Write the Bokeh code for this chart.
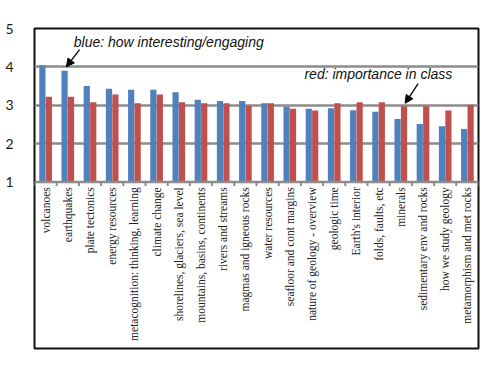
import numpy as np
from bokeh.plotting import figure
from bokeh.models import Range1d, FixedTicker, ColumnDataSource, Label, Arrow, NormalHead, Span
from bokeh.core.properties import value
from bokeh.embed import file_html
from bokeh.resources import INLINE

# Survey topics, mean ratings on a 1-5 scale
topics = [
    "volcanoes", "earthquakes", "plate tectonics", "energy resources",
    "metacognition: thinking, learning", "climate change",
    "shorelines, glaciers, sea level", "mountains, basins, continents",
    "rivers and streams", "magmas and igneous rocks", "water resources",
    "seafloor and cont margins", "nature of geology - overview",
    "geologic time", "Earth's interior", "folds, faults, etc", "minerals",
    "sedimentary env and rocks", "how we study geology",
    "metamorphism and met rocks",
]
interest = [4.04, 3.90, 3.50, 3.43, 3.40, 3.40, 3.34, 3.14, 3.11, 3.11,
            3.05, 2.96, 2.91, 2.92, 2.87, 2.83, 2.64, 2.51, 2.45, 2.38]
importance = [3.22, 3.22, 3.08, 3.28, 3.05, 3.28, 3.08, 3.05, 3.05, 2.98,
              3.05, 2.91, 2.86, 3.05, 3.08, 3.08, 2.97, 2.97, 2.86, 3.01]
y_ticks = [1, 2, 3, 4, 5]

BLUE = "#4F81BD"
RED = "#C0504D"
GRID = "#8c8c8c"

n = len(topics)
xc = np.arange(n) + 0.5
off = 0.145
src = ColumnDataSource(dict(
    xb=xc - off, xr=xc + off, interest=interest, importance=importance,
    xl=xc, topic=topics,
))

# y range continues below 1 so the framed box also holds the topic labels
p = figure(width=500, height=371, output_backend="svg", toolbar_location=None,
           x_range=Range1d(0, n), y_range=Range1d(-3.344, 5),
           x_axis_location=None,
           min_border_left=34, min_border_right=22,
           min_border_top=28, min_border_bottom=23)
p.background_fill_color = "white"
p.border_fill_color = "white"
p.outline_line_color = "#111111"
p.outline_line_width = 2

p.xgrid.visible = False
p.ygrid.ticker = FixedTicker(ticks=y_ticks[1:-1])
p.ygrid.grid_line_color = GRID
p.ygrid.grid_line_width = 2.5

yax = p.yaxis[0]
yax.ticker = FixedTicker(ticks=y_ticks)
yax.axis_line_color = None
yax.major_tick_line_color = None
yax.minor_tick_line_color = None
yax.major_label_standoff = 15
yax.major_label_text_font = "Lato"
yax.major_label_text_font_size = "14px"
yax.major_label_text_color = "#1a1a1a"

p.vbar(x="xb", width=0.28, bottom=1, top="interest", source=src,
       fill_color=BLUE, line_color=None)
p.vbar(x="xr", width=0.28, bottom=1, top="importance", source=src,
       fill_color=RED, line_color=None)

# category axis at y = 1 with tick marks between categories
p.add_layout(Span(location=1, dimension="width", line_color=GRID, line_width=2.5))
bounds = np.arange(n + 1)
p.segment(x0=bounds, x1=bounds, y0=1, y1=0.89, line_color=GRID, line_width=2)

p.text(x="xl", y=0.86, text="topic", source=src, angle=np.pi / 2,
       text_align="right", text_baseline="middle",
       text_font=value("Liberation Serif"), text_font_size="11.5px",
       text_color="#222222")

# series callouts
p.add_layout(Label(x=1.77, y=4.65, text="blue: how interesting/engaging",
                   text_font="Liberation Sans", text_font_style="italic",
                   text_font_size="14px", text_baseline="middle",
                   text_color="#111111"))
p.add_layout(Label(x=12.16, y=3.81, text="red: importance in class",
                   text_font="Liberation Sans", text_font_style="italic",
                   text_font_size="14px", text_baseline="middle",
                   text_color="#111111"))

p.add_layout(Arrow(end=NormalHead(size=8, fill_color="black", line_color="black"),
                   x_start=2.03, y_start=4.45,
                   x_end=xc[1] - off + 0.08, y_end=interest[1] + 0.1,
                   line_color="black", line_width=1.3))
p.add_layout(Arrow(end=NormalHead(size=8, fill_color="black", line_color="black"),
                   x_start=17.28, y_start=3.56,
                   x_end=xc[16] + off + 0.05, y_end=importance[16] + 0.08,
                   line_color="black", line_width=1.3))

open("out.html", "w").write(file_html(p, INLINE))
